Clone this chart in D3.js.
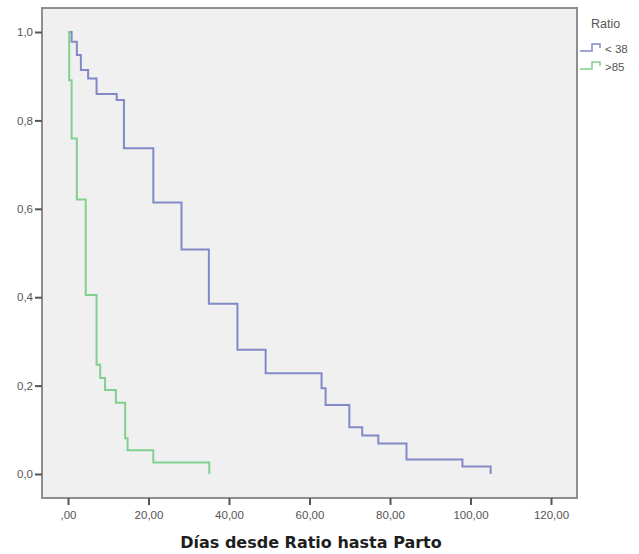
<!DOCTYPE html>
<html>
<head>
<meta charset="utf-8">
<script src="https://cdn.jsdelivr.net/npm/d3@7"></script>
<style>
  body { margin: 0; background: #fff; }
  text { font-family: "Liberation Sans", Arial, sans-serif; }
</style>
</head>
<body>
<div id="chart"></div>
<script>
// Kaplan-Meier steps
var blueTimes = [0, 0.9, 2.2, 3.2, 5.0, 7.1, 12.1, 13.9, 21.2, 28.2, 35.0, 42.1, 49.1, 63.0, 64.0, 69.9, 73.1, 77.1, 84.1, 98.0, 105.0];
var blueSurv  = [1, 0.978, 0.948, 0.914, 0.895, 0.860, 0.846, 0.737, 0.614, 0.508, 0.385, 0.281, 0.228, 0.194, 0.156, 0.106, 0.087, 0.069, 0.033, 0.017, 0];

var greenTimes = [0, 0.3, 0.9, 2.2, 4.4, 7.1, 8.0, 9.2, 11.9, 14.2, 14.8, 21.2, 35.1];
var greenSurv  = [1, 0.891, 0.759, 0.621, 0.405, 0.247, 0.217, 0.190, 0.161, 0.081, 0.054, 0.026, 0];

var seriesNames = ["< 38", ">85"];
var seriesColors = ["#8189c8", "#82d08f"];
var xTicks = [0, 20, 40, 60, 80, 100, 120];
var xTickLabels = [",00", "20,00", "40,00", "60,00", "80,00", "100,00", "120,00"];
var yTicks = [0, 0.2, 0.4, 0.6, 0.8, 1.0];
var yTickLabels = ["0,0", "0,2", "0,4", "0,6", "0,8", "1,0"];

var svgWidth = 639;
var svgHeight = 554;

var frame = { left: 42, top: 8, right: 577, bottom: 498 };

var svg = d3.select("#chart")
    .append("svg")
    .attr("width", svgWidth)
    .attr("height", svgHeight);

var x = d3.scaleLinear().domain([0, 120]).range([68, 551]);
var y = d3.scaleLinear().domain([0, 1]).range([474, 32]);

// plot background + frame
svg.append("rect")
    .attr("x", frame.left)
    .attr("y", frame.top)
    .attr("width", frame.right - frame.left)
    .attr("height", frame.bottom - frame.top)
    .attr("fill", "#f0f0f0")
    .attr("stroke", "#8e8e8e")
    .attr("stroke-width", 2);

// axes
var bottomAxis = d3.axisBottom(x)
    .tickValues(xTicks)
    .tickSize(7)
    .tickPadding(6)
    .tickFormat((d, i) => xTickLabels[i]);

var leftAxis = d3.axisLeft(y)
    .tickValues(yTicks)
    .tickSize(7)
    .tickPadding(2)
    .tickFormat((d, i) => yTickLabels[i]);

var gx = svg.append("g")
    .attr("transform", `translate(0,${frame.bottom})`)
    .call(bottomAxis);

var gy = svg.append("g")
    .attr("transform", `translate(${frame.left},0)`)
    .call(leftAxis);

[gx, gy].forEach(g => {
    g.select(".domain").remove();
    g.selectAll(".tick line").attr("stroke", "#555").attr("stroke-width", 2);
    g.selectAll(".tick text")
        .attr("fill", "#555")
        .style("font-size", "11.5px")
        .style("font-family", "'Liberation Sans', Arial, sans-serif");
});

// axis title
svg.append("text")
    .attr("x", 311)
    .attr("y", 548)
    .attr("text-anchor", "middle")
    .attr("fill", "#1e1e1e")
    .style("font-family", "'DejaVu Sans', Verdana, sans-serif")
    .style("font-size", "16px")
    .style("font-weight", "bold")
    .text("Días desde Ratio hasta Parto");

// survival curves
var line = d3.line()
    .x(d => x(d[0]))
    .y(d => y(d[1]))
    .curve(d3.curveStepAfter);

var series = [
    d3.zip(blueTimes, blueSurv),
    d3.zip(greenTimes, greenSurv)
];

svg.selectAll(".km")
    .data(series)
    .enter()
    .append("path")
    .attr("class", "km")
    .attr("d", line)
    .attr("fill", "none")
    .attr("stroke", (d, i) => seriesColors[i])
    .attr("stroke-width", 2);

// legend
svg.append("text")
    .attr("x", 591)
    .attr("y", 28)
    .attr("fill", "#555")
    .style("font-size", "12.5px")
    .text("Ratio");

var legend = svg.selectAll(".leg")
    .data(seriesNames)
    .enter()
    .append("g")
    .attr("class", "leg")
    .attr("transform", (d, i) => `translate(580,${51 + i * 18})`);

legend.append("path")
    .attr("d", "M0,0H12V-7H20V-3")
    .attr("fill", "none")
    .attr("stroke", (d, i) => seriesColors[i])
    .attr("stroke-width", 1.5);

legend.append("text")
    .attr("x", 25)
    .attr("y", 2)
    .attr("fill", "#555")
    .style("font-size", "11.5px")
    .text(d => d);
</script>
</body>
</html>
